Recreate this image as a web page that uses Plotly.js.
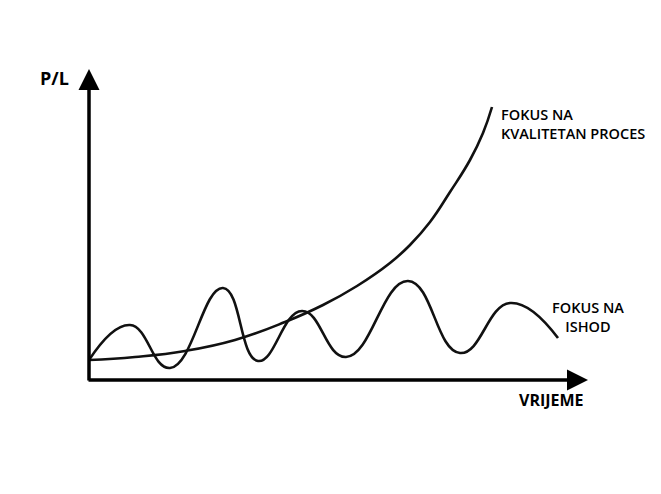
<!DOCTYPE html>
<html>
<head>
<meta charset="utf-8">
<script src="https://cdn.plot.ly/plotly-3.0.1.min.js"></script>
<style>html,body{margin:0;padding:0;background:#fff;}#chart{width:661px;height:494px;}</style>
</head>
<body>
<div id="chart"></div>
<script>
// Exponential curve: "Fokus na kvalitetan proces"
var processX = [0, 4.6, 9.6, 14.6, 19.6, 23.4, 26.8, 30.1, 32.1, 34.1, 36.1, 38.1, 39.4, 40.3];
var processY = [2.0, 2.3, 2.9, 4.0, 5.8, 7.5, 9.4, 11.7, 13.5, 15.8, 18.8, 22.0, 24.7, 27.3];

// Oscillating curve: "Fokus na ishod" (start, peaks, troughs, end)
var outcomeX = [0, 4.1, 8.1, 13.4, 16.9, 21.3, 25.7, 31.9, 37.1, 42.1, 46.9];
var outcomeY = [2.0, 5.5, 1.2, 9.2, 1.9, 6.9, 2.3, 9.9, 2.7, 7.7, 4.2];

var labels = {
  yAxis: "P/L",
  xAxis: "VRIJEME",
  process: "FOKUS NA<br>KVALITETAN PROCES",
  outcome: "FOKUS NA<br>ISHOD"
};

var font = "Open Sans, Noto Sans, sans-serif";

var traces = [
  {x: processX, y: processY, mode: "lines", line: {color: "#111", width: 2.6, shape: "spline", smoothing: 1.3}, hoverinfo: "skip"},
  {x: outcomeX, y: outcomeY, mode: "lines", line: {color: "#111", width: 2.6, shape: "spline", smoothing: 1.3}, hoverinfo: "skip"}
];

var layout = {
  width: 661, height: 494,
  margin: {l: 0, r: 0, t: 0, b: 0},
  paper_bgcolor: "#fff", plot_bgcolor: "#fff",
  showlegend: false,
  xaxis: {range: [-8.9, 57.2], visible: false, fixedrange: true},
  yaxis: {range: [-11.4, 38], visible: false, fixedrange: true},
  annotations: [
    {x: 49.9, y: 0, ax: -0.2, ay: 0, axref: "x", ayref: "y", xref: "x", yref: "y", text: "", showarrow: true, arrowhead: 2, arrowsize: 1.2, arrowwidth: 3.5, arrowcolor: "#000", standoff: 0},
    {x: 0, y: 31.1, ax: 0, ay: -0.2, axref: "x", ayref: "y", xref: "x", yref: "y", text: "", showarrow: true, arrowhead: 2, arrowsize: 1.2, arrowwidth: 3.5, arrowcolor: "#000", standoff: 0},
    {x: -3.5, y: 30.2, xref: "x", yref: "y", text: "<b>" + labels.yAxis + "</b>", showarrow: false, font: {family: font, size: 18, color: "#000"}},
    {x: 46.2, y: -2.0, xref: "x", yref: "y", text: "<b>" + labels.xAxis + "</b>", showarrow: false, font: {family: font, size: 16, color: "#000"}},
    {x: 41.0, y: 25.6, xref: "x", yref: "y", xanchor: "left", align: "left", text: labels.process, showarrow: false, font: {family: font, size: 14.5, color: "#000", weight: 600}},
    {x: 49.9, y: 6.3, xref: "x", yref: "y", xanchor: "center", align: "center", text: labels.outcome, showarrow: false, font: {family: font, size: 14.5, color: "#000", weight: 600}}
  ]
};

Plotly.newPlot("chart", traces, layout, {staticPlot: true, displayModeBar: false});
</script>
</body>
</html>
